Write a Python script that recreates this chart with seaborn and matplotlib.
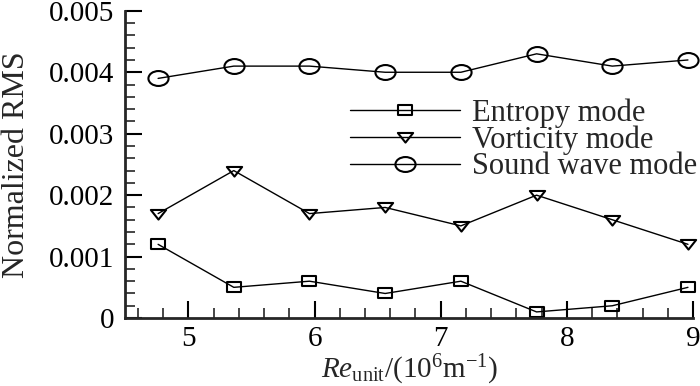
import matplotlib
matplotlib.use("Agg")
import matplotlib.pyplot as plt
import pandas as pd
import seaborn as sb
from matplotlib.path import Path
from matplotlib.transforms import Affine2D
from matplotlib.ticker import MultipleLocator

# Re_unit values (10^6 1/m)
re_unit = [4.76, 5.36, 5.96, 6.56, 7.16, 7.76, 8.36, 8.96]
entropy = [0.0012, 0.0005, 0.0006, 0.0004, 0.0006, 0.0001, 0.0002, 0.0005]
vorticity = [0.0017, 0.0024, 0.0017, 0.0018, 0.0015, 0.0020, 0.0016, 0.0012]
sound = [0.0039, 0.0041, 0.0041, 0.0040, 0.0040, 0.0043, 0.0041, 0.0042]

sb.set_style("ticks")
plt.rcParams["font.family"] = ["Liberation Serif", "DejaVu Serif"]
plt.rcParams["mathtext.fontset"] = "custom"
plt.rcParams["mathtext.rm"] = "Liberation Serif"
plt.rcParams["mathtext.it"] = "Liberation Serif:italic"

# the original figure is a bit stretched sideways, so are its markers
stretch = Affine2D().scale(1.35, 1.0)
m_circle = stretch.transform_path(Path.unit_circle())
m_square = stretch.transform_path(Path([(-1, -1), (1, -1), (1, 1), (-1, 1), (-1, -1)], closed=True))
m_tri = stretch.transform_path(Path([(-1, 0.8), (1, 0.8), (0, -0.9), (-1, 0.8)], closed=True))

fig = plt.figure(figsize=(7, 3.86), dpi=100)
ax = fig.add_axes([0.179, 0.176, 0.811, 0.796])

series = [("Entropy mode", entropy, m_square, 10),
          ("Vorticity mode", vorticity, m_tri, 11),
          ("Sound wave mode", sound, m_circle, 14.5)]
for name, vals, mk, ms in series:
    df = pd.DataFrame({"x": re_unit, "y": vals})
    sb.lineplot(data=df, x="x", y="y", ax=ax, color="black", lw=1.0,
                marker=mk, markersize=ms, markerfacecolor="none",
                markeredgecolor="black", markeredgewidth=1.5, label=name,
                clip_on=False)

ax.set_xlim(4.5, 9)
ax.set_ylim(0, 0.005)
ax.xaxis.set_major_locator(MultipleLocator(1))
ax.xaxis.set_minor_locator(MultipleLocator(0.2))
ax.yaxis.set_minor_locator(MultipleLocator(0.0002))
ax.set_yticks([0, 0.001, 0.002, 0.003, 0.004, 0.005])
ax.set_yticklabels(["0", "0.001", "0.002", "0.003", "0.004", "0.005"])

sb.despine(ax=ax)
for s in ["left", "bottom"]:
    ax.spines[s].set_linewidth(2)
ax.tick_params(which="major", direction="in", length=12, width=1.5,
               labelsize=21, colors="black", pad=8)
ax.tick_params(axis="x", which="major", pad=6)
ax.tick_params(which="minor", direction="in", length=7, width=1.2)

ax.set_xlabel(r"$\mathit{Re}_{\mathrm{unit}}/(10^{6}\mathrm{m}^{-1})$",
              fontsize=21, labelpad=0)
ax.set_ylabel("Normalized RMS", fontsize=23, labelpad=13)

leg = ax.legend(loc="upper left", bbox_to_anchor=(0.396, 0.715), frameon=False,
                fontsize=22, handlelength=3.6, handletextpad=0.4,
                labelspacing=-0.08, borderaxespad=0, borderpad=0)

plt.savefig("out.png", dpi=100)
